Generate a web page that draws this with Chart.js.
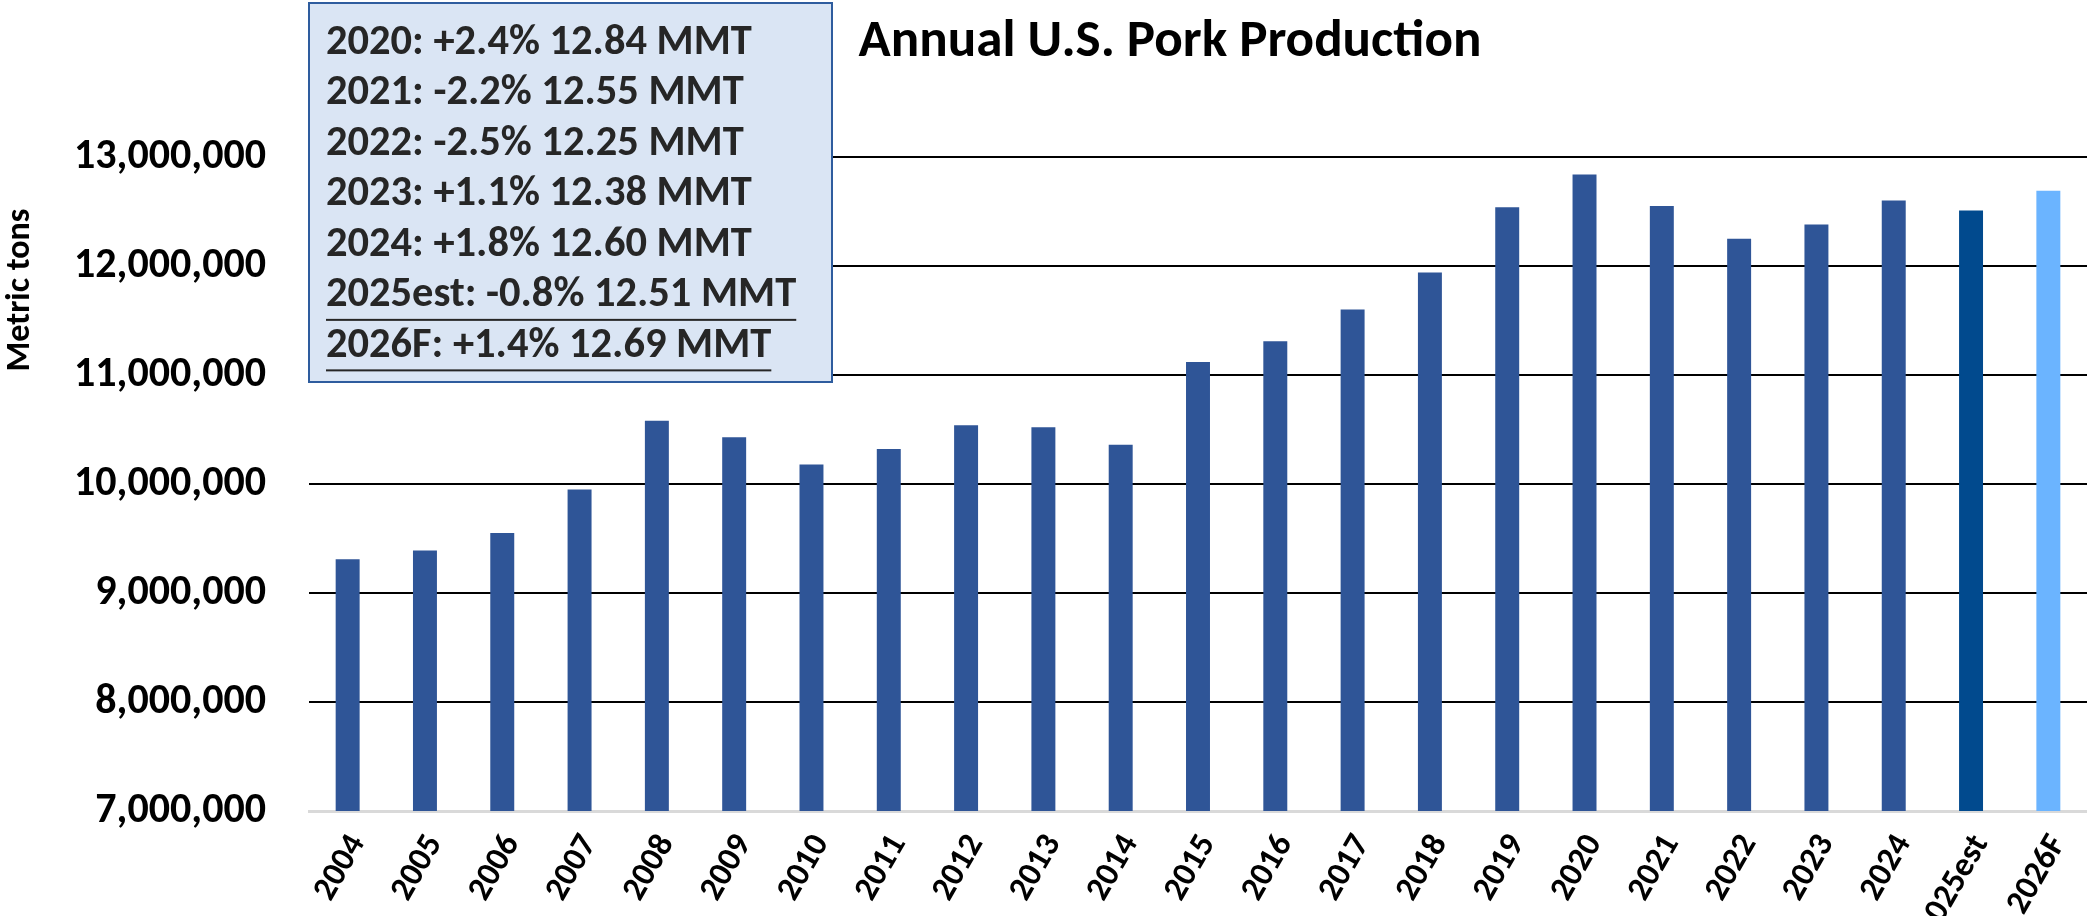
<!DOCTYPE html>
<html>
<head>
<meta charset="utf-8">
<script src="https://cdn.jsdelivr.net/npm/chart.js@4.4.1/dist/chart.umd.min.js"></script>
<style>
  html, body { margin: 0; padding: 0; background: #fff; overflow: hidden; }
  #wrap { width: 2087px; height: 916px; }
</style>
</head>
<body>
<div id="wrap"><canvas id="porkChart" width="2087" height="916"></canvas></div>
<script>
// Annual U.S. pork production, metric tons
const years = ['2004', '2005', '2006', '2007', '2008', '2009', '2010', '2011', '2012', '2013', '2014',
    '2015', '2016', '2017', '2018', '2019', '2020', '2021', '2022', '2023', '2024', '2025est', '2026F'];
const production = [9310000, 9390000, 9550000, 9950000, 10580000, 10430000, 10180000, 10320000, 10540000,
    10520000, 10360000, 11120000, 11310000, 11600000, 11940000, 12540000, 12840000, 12550000, 12250000,
    12380000, 12600000, 12510000, 12690000];
const noteLines = [
    '2020: +2.4% 12.84 MMT',
    '2021: -2.2% 12.55 MMT',
    '2022: -2.5% 12.25 MMT',
    '2023: +1.1% 12.38 MMT',
    '2024: +1.8% 12.60 MMT',
    '2025est: -0.8% 12.51 MMT',
    '2026F: +1.4% 12.69 MMT'
];
const chartTitle = 'Annual U.S. Pork Production';
const yTitle = 'Metric tons';
const yMin = 7000000, yMax = 13000000, yStep = 1000000;

const FONT = "Carlito, 'Open Sans', sans-serif";
Chart.defaults.font.family = FONT;
Chart.defaults.color = '#000';

function barColor(label) {
    if (label === '2025est') return '#014A8E';
    if (label === '2026F') return '#6BB4FF';
    return '#2F5597';
}

// taille de police pour qu'un texte tienne dans une largeur donnée
function fitSize(ctx, text, width) {
    ctx.font = `bold 100px ${FONT}`;
    return 100 * width / ctx.measureText(text).width;
}

const notePlugin = {
    id: 'notes',
    afterDraw(chart) {
        const ctx = chart.ctx;
        ctx.save();
        // titre
        let s = fitSize(ctx, chartTitle, 623);
        ctx.font = `bold ${s}px ${FONT}`;
        ctx.fillStyle = '#000';
        ctx.textAlign = 'center';
        ctx.textBaseline = 'middle';
        ctx.fillText(chartTitle, 1170, 43);

        // titre de l'axe Y
        s = fitSize(ctx, yTitle, 163);
        ctx.save();
        ctx.translate(20, 290);
        ctx.rotate(-Math.PI / 2);
        ctx.font = `bold ${s}px ${FONT}`;
        ctx.fillText(yTitle, 0, 0);
        ctx.restore();

        // encadré
        ctx.fillStyle = '#DAE5F4';
        ctx.fillRect(309, 3, 523, 379);
        ctx.strokeStyle = '#2E5C9E';
        ctx.lineWidth = 2;
        ctx.strokeRect(309, 3, 523, 379);

        s = fitSize(ctx, noteLines[0], 426);
        ctx.font = `bold ${s}px ${FONT}`;
        ctx.fillStyle = '#262626';
        ctx.textAlign = 'left';
        noteLines.forEach((t, i) => {
            const y = 43 + i * 50.5;
            ctx.fillText(t, 326, y);
            if (i >= 5) {
                const w = ctx.measureText(t).width;
                ctx.fillRect(326, y + s * 0.55, w, 2);
            }
        });
        ctx.restore();
    }
};

new Chart(document.getElementById('porkChart'), {
    type: 'bar',
    data: {
        labels: years,
        datasets: [{
            data: production,
            backgroundColor: years.map(barColor),
            barPercentage: 0.31,
            categoryPercentage: 1
        }]
    },
    options: {
        responsive: false,
        animation: false,
        layout: { padding: { top: 157, right: -14, left: 0, bottom: 0 } },
        plugins: { legend: { display: false }, tooltip: { enabled: false } },
        scales: {
            x: {
                grid: { display: false },
                border: { color: '#D9D9D9', width: 3 },
                ticks: { font: { size: 34, weight: 'bold' }, maxRotation: 60, minRotation: 60, autoSkip: false, padding: 9, labelOffset: 10 },
                afterFit(scale) {
                    scale.height = 105;
                    scale.paddingLeft = 0;
                    scale.paddingRight = 0;
                }
            },
            y: {
                min: yMin,
                max: yMax,
                ticks: {
                    stepSize: yStep,
                    font: { size: 42, weight: 'bold' },
                    padding: 43,
                    callback: v => v.toLocaleString('en-US')
                },
                grid: {
                    color: c => c.tick && c.tick.value === yMin ? 'rgba(0,0,0,0)' : '#000',
                    lineWidth: 2,
                    drawTicks: false
                },
                border: { display: false },
                afterFit(scale) {
                    scale.width = 309;
                    scale.paddingTop = 0;
                    scale.paddingBottom = 0;
                }
            }
        }
    },
    plugins: [notePlugin]
});
</script>
</body>
</html>
